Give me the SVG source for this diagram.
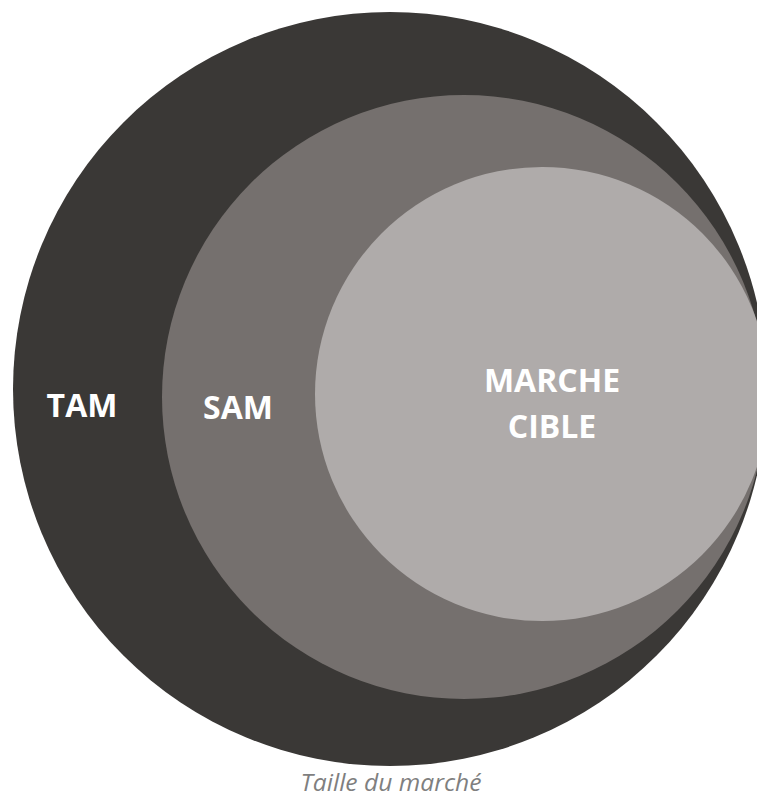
<svg xmlns="http://www.w3.org/2000/svg" width="757" height="798" viewBox="0 0 757 798">
<style>
.lbl{font-family:"Open Sans","Liberation Sans",sans-serif;font-weight:bold;font-size:32px;fill:#ffffff;text-anchor:middle}
.cap{font-family:"Open Sans","Liberation Sans",sans-serif;font-style:italic;font-size:24px;fill:#7f7f7f;text-anchor:middle}
</style>
<rect width="757" height="798" fill="#ffffff"/>
<g id="tam">
<circle cx="390" cy="389" r="377" fill="#3a3836"/>
<text class="lbl" x="82" y="417">TAM</text>
</g>
<g id="sam">
<circle cx="464" cy="397" r="302" fill="#75706e"/>
<text class="lbl" x="238" y="419">SAM</text>
</g>
<g id="cible">
<circle cx="542" cy="394" r="227" fill="#afabaa"/>
<text class="lbl" x="552" y="392">MARCHE</text>
<text class="lbl" x="552" y="438">CIBLE</text>
</g>
<g id="connectors"></g>
<text class="cap" x="391" y="791" textLength="181" lengthAdjust="spacingAndGlyphs">Taille du marché</text>
</svg>
